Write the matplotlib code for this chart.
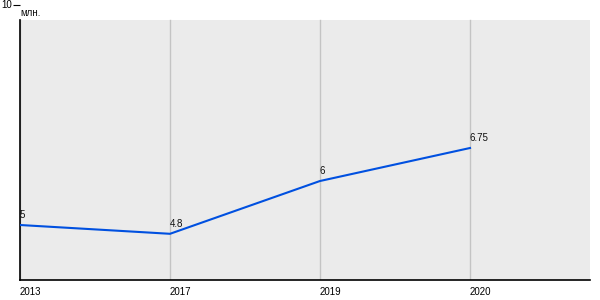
import matplotlib
matplotlib.use("Agg")
import matplotlib.pyplot as plt
from matplotlib.patches import Rectangle

plt.rcParams['font.family'] = ['Liberation Sans', 'DejaVu Sans']

# Data
years = ['2013', '2017', '2019', '2020']
values = [5, 4.8, 6, 6.75]
value_labels = ['5', '4.8', '6', '6.75']
unit_label = 'млн.'

fig = plt.figure(figsize=(6, 3), dpi=100)
ax = fig.add_axes([20 / 600, 20 / 300, 570 / 600, 275 / 300])

ymin, ytop, ymax = 3.75, 9.65, 10
ax.set_xlim(0, 3.8)
ax.set_ylim(ymin, ymax)
ax.set_facecolor('white')
ax.add_patch(Rectangle((0, ymin), 3.8, ytop - ymin, facecolor='#ebebeb',
                       edgecolor='none', zorder=0))

x = list(range(len(years)))
for xi in x:
    ax.plot([xi, xi], [ymin, ytop], color='#c4c4c4', lw=1, zorder=1)

ax.plot(x, values, color='#0050e0', lw=1.5, zorder=3)
for xi, v, lab in zip(x, values, value_labels):
    ax.text(xi, v + 0.12, lab, fontsize=7, ha='left', va='bottom', color='#111111', zorder=2)

# axes styling
for s in ['top', 'right']:
    ax.spines[s].set_visible(False)
ax.spines['left'].set_bounds(ymin, ytop)
ax.spines['left'].set_linewidth(1.2)
ax.spines['bottom'].set_linewidth(1.2)

ax.set_xticks(x)
ax.set_xticklabels(years, fontsize=7, ha='left')
ax.tick_params(axis='x', length=0, pad=5)
ax.set_yticks([10])
ax.set_yticklabels(['10'], fontsize=7, va='center')
ax.tick_params(axis='y', length=5, width=0.8, pad=1)

ax.text(0, 9.82, unit_label, fontsize=7, ha='left', va='center', color='#111111')

plt.savefig("out.png", dpi=100)
plt.close()
